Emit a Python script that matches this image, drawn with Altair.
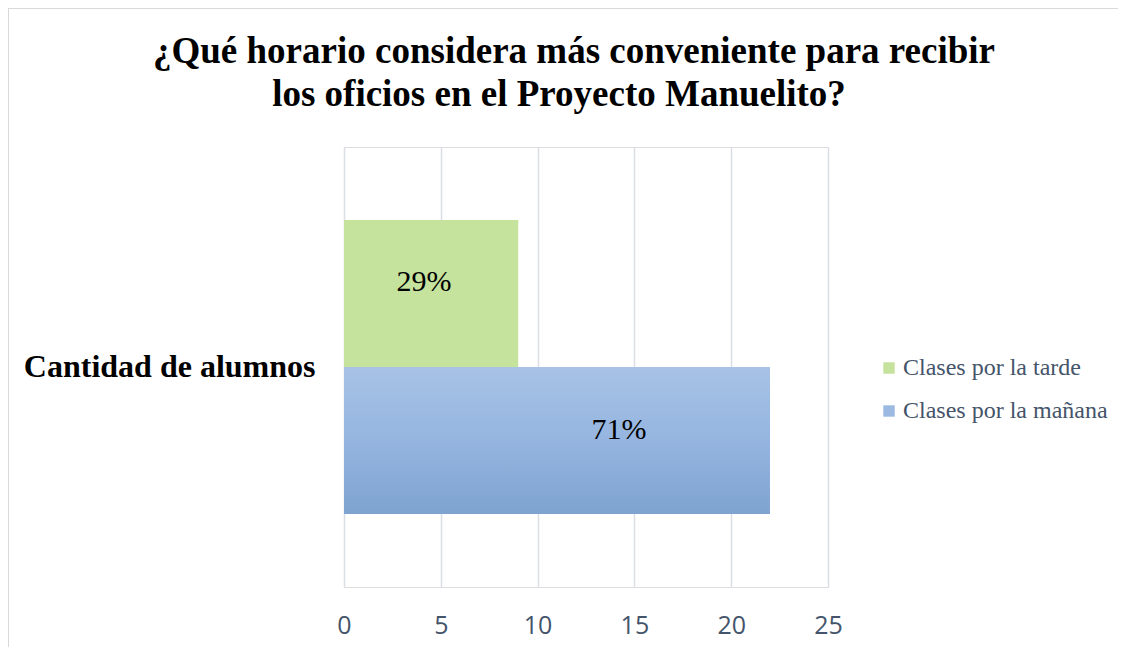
import altair as alt
import pandas as pd

categories = ["Cantidad de alumnos"]
series = ["Clases por la tarde", "Clases por la mañana"]
values = [9, 22]
labels = ["29%", "71%"]
x_ticks = [0, 5, 10, 15, 20, 25]
title_lines = ["¿Qué horario considera más conveniente para recibir",
               "los oficios en el Proyecto Manuelito?"]

df = pd.DataFrame({
    "categoria": [categories[0]] * len(series),
    "serie": series,
    "valor": values,
    "etiqueta": labels,
})
title_df = pd.DataFrame({"linea": title_lines})

green = "#C5E39D"
blue = "#9BB9E1"
serif = "Liberation Serif"

y_axis = alt.Axis(title=None, labelFont=serif, labelFontSize=32, labelFontWeight="bold",
                  labelColor="black", labelPadding=29, ticks=False, domain=False,
                  labelLimit=500, grid=False)
y_scale = alt.Scale(paddingInner=0, paddingOuter=0.248)
yoff_scale = alt.Scale(paddingInner=0, paddingOuter=0)
x_scale = alt.Scale(domain=[0, 25], nice=False)
x_axis = alt.Axis(values=x_ticks, title=None, labelFont="Open Sans", labelFontSize=25,
                  labelColor="#44546A", labelPadding=26, ticks=False, domain=False,
                  labelFlush=False, grid=True, gridColor="#D9DEE7", gridWidth=1.5)

base = alt.Chart(df)

bars = base.mark_bar().encode(
    y=alt.Y("categoria:N", scale=y_scale, axis=y_axis),
    yOffset=alt.YOffset("serie:N", sort=series, scale=yoff_scale),
    x=alt.X("valor:Q", scale=x_scale, axis=x_axis),
    color=alt.Color("serie:N", sort=series,
                    scale=alt.Scale(domain=series, range=[green, blue]),
                    legend=alt.Legend(title=None, orient="none", legendX=533, legendY=209,
                                      symbolType="square", symbolSize=130, symbolStrokeWidth=0,
                                      labelFont=serif, labelFontSize=24, labelColor="#44546A",
                                      rowPadding=19, labelOffset=2, padding=0, labelLimit=400)),
)

blue_grad = alt.Gradient(
    gradient="linear",
    stops=[alt.GradientStop(color="#A7C2E5", offset=0),
           alt.GradientStop(color="#95B5E0", offset=0.5),
           alt.GradientStop(color="#7EA3CF", offset=1)],
    x1=0, x2=0, y1=0, y2=1,
)

bar_grad = base.mark_bar(color=blue_grad).encode(
    y=alt.Y("categoria:N", scale=y_scale, axis=y_axis),
    yOffset=alt.YOffset("serie:N", sort=series, scale=yoff_scale),
    x=alt.X("valor:Q", scale=x_scale, axis=x_axis),
).transform_filter(alt.datum.serie == series[1])


def label_layer(idx, dx):
    return base.mark_text(font=serif, fontSize=30, color="black", dx=dx, dy=-11,
                          baseline="middle").encode(
        y=alt.Y("categoria:N", scale=y_scale, axis=y_axis),
        yOffset=alt.YOffset("serie:N", sort=series, scale=yoff_scale),
        x=alt.X("mitad:Q", scale=x_scale, axis=x_axis),
        text="etiqueta:N",
    ).transform_calculate(mitad="datum.valor / 2").transform_filter(alt.datum.serie == series[idx])


def title_layer(idx, xpos, ypos):
    return alt.Chart(title_df).mark_text(
        font=serif, fontSize=37, fontWeight="bold", color="black",
        align="center", baseline="middle"
    ).encode(
        x=alt.value(xpos), y=alt.value(ypos), text="linea:N"
    ).transform_filter(alt.datum.linea == title_lines[idx])


border_src = alt.Chart(pd.DataFrame({"a": [0]}))
border_top = border_src.mark_rule(color="#D9D9D9", strokeWidth=2).encode(
    x=alt.value(-336), x2=alt.value(900), y=alt.value(-139))
border_left = border_src.mark_rule(color="#D9D9D9", strokeWidth=2).encode(
    x=alt.value(-336), y=alt.value(-139), y2=alt.value(700))

chart = alt.layer(
    border_top, border_left, bars, bar_grad,
    label_layer(0, -7), label_layer(1, 62),
    title_layer(0, 230, -95), title_layer(1, 215, -52),
).properties(
    width=484,
    height=440,
    autosize=alt.AutoSizeParams(type="none"),
    padding={"left": 336, "top": 139, "right": 290, "bottom": 60},
).configure_view(stroke=None).configure(background="white")

chart.save("out.html", embed_options={"renderer": "svg", "actions": False})
